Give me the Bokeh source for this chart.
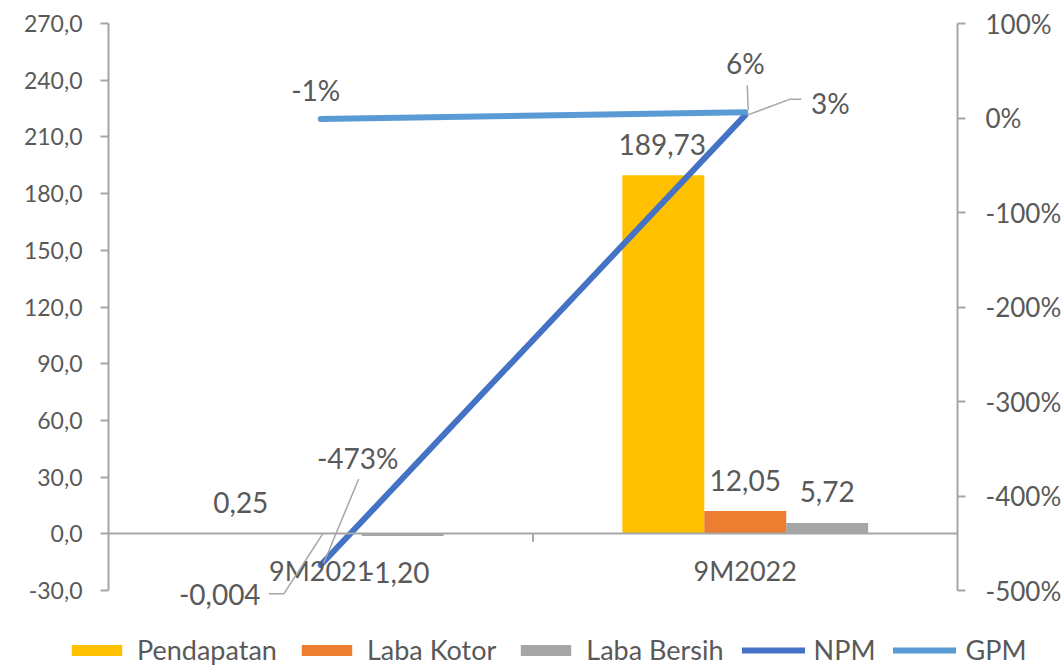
from bokeh.plotting import figure
from bokeh.models import (FactorRange, Range1d, LinearAxis, FixedTicker, Legend, LegendItem,
                          ColumnDataSource, LabelSet, Arrow)
from bokeh.transform import dodge
from bokeh.core.properties import value
from bokeh.embed import file_html
from bokeh.resources import INLINE

# ---------------- data ----------------
categories = ["9M2021", "9M2022"]
pendapatan = [0.25, 189.73]
laba_kotor = [-0.004, 12.05]
laba_bersih = [-1.20, 5.72]
npm = [-473, 3]
gpm = [-1, 6]

pendapatan_labels = ["0,25", "189,73"]
laba_kotor_labels = ["-0,004", "12,05"]
laba_bersih_labels = ["-1,20", "5,72"]
npm_labels = ["-473%", "3%"]
gpm_labels = ["-1%", "6%"]

left_ticks = [-30, 0, 30, 60, 90, 120, 150, 180, 210, 240, 270]
left_tick_labels = ["-30,0", "0,0", "30,0", "60,0", "90,0", "120,0", "150,0",
                    "180,0", "210,0", "240,0", "270,0"]
right_ticks = [-500, -400, -300, -200, -100, 0, 100]
right_tick_labels = ["-500%", "-400%", "-300%", "-200%", "-100%", "0%", "100%"]

series_names = ["Pendapatan", "Laba Kotor", "Laba Bersih", "NPM", "GPM"]

# ---------------- style ----------------
W, H = 1064, 626
LH = 40                 # legend strip height
BL, BR, BT, BB = 108, 106, 23, 16
AX_H = 567              # pixel height of the visible axis span
EXT = H - BT - BB - AX_H  # extra frame pixels below the axis minimum
FW = W - BL - BR
FONT = "Lato"
TXT = "#595959"
AXC = "#a6a6a6"
C_PEND, C_KOT, C_BER, C_NPM, C_GPM = "#FFC000", "#ED7D31", "#A5A5A5", "#4472C4", "#5B9BD5"
BW = 0.193
Y0, Y1 = -30, 270
P0, P1 = -500, 100
YPX = (Y1 - Y0) / AX_H
PPX = (P1 - P0) / AX_H

p = figure(width=W, height=H,
           x_range=FactorRange(factors=categories, range_padding=0),
           y_range=Range1d(Y0 - EXT * YPX, Y1),
           output_backend="svg", toolbar_location=None,
           min_border_left=BL, min_border_right=BR, min_border_top=BT, min_border_bottom=BB)
p.extra_y_ranges = {"pct": Range1d(P0 - EXT * PPX, P1)}
p.outline_line_color = None
p.xgrid.visible = False
p.ygrid.visible = False

# left axis
la = p.left[0]
la.ticker = FixedTicker(ticks=left_ticks)
la.bounds = (Y0, Y1)
la.major_label_overrides = {t: s for t, s in zip(left_ticks, left_tick_labels)}
la.minor_tick_line_color = None
la.major_tick_in = 0
la.major_tick_out = 8
la.major_tick_line_color = AXC
la.major_tick_line_width = 2
la.axis_line_color = AXC
la.axis_line_width = 2
la.major_label_text_font = FONT
la.major_label_text_font_size = "23px"
la.major_label_text_color = TXT
la.major_label_standoff = 18

# right axis
ra = LinearAxis(y_range_name="pct", ticker=FixedTicker(ticks=right_ticks), bounds=(P0, P1),
                major_label_overrides={t: s for t, s in zip(right_ticks, right_tick_labels)})
ra.minor_tick_line_color = None
ra.major_tick_in = 0
ra.major_tick_out = 8
ra.major_tick_line_color = AXC
ra.major_tick_line_width = 2
ra.axis_line_color = AXC
ra.axis_line_width = 2
ra.major_label_text_font = FONT
ra.major_label_text_font_size = "26px"
ra.major_label_text_color = TXT
ra.major_label_standoff = 20
p.add_layout(ra, "right")

# category axis at y = 0
xa = p.below[0]
xa.fixed_location = 0
xa.axis_line_color = AXC
xa.axis_line_width = 2
xa.major_tick_line_color = None
xa.major_label_text_font = FONT
xa.major_label_text_font_size = "27px"
xa.major_label_text_color = TXT
xa.major_label_standoff = 14

# boundary tick between categories
p.segment(x0=[1], y0=[0], x1=[1], y1=[-8 * YPX], line_color=AXC, line_width=2)

src = ColumnDataSource(dict(cat=categories, pend=pendapatan, kot=laba_kotor, ber=laba_bersih,
                            npm=npm, gpm=gpm))


def draw_series(fig):
    r1 = fig.vbar(x=dodge("cat", -BW, range=fig.x_range), top="pend", width=BW, source=src,
                  fill_color=C_PEND, line_color=None)
    r2 = fig.vbar(x=dodge("cat", 0, range=fig.x_range), top="kot", width=BW, source=src,
                  fill_color=C_KOT, line_color=None)
    r3 = fig.vbar(x=dodge("cat", BW, range=fig.x_range), top="ber", width=BW, source=src,
                  fill_color=C_BER, line_color=None)
    r4 = fig.line(x="cat", y="npm", source=src, y_range_name="pct", line_color=C_NPM,
                  line_width=6, line_cap="round")
    r5 = fig.line(x="cat", y="gpm", source=src, y_range_name="pct", line_color=C_GPM,
                  line_width=6, line_cap="round")
    return [r1, r2, r3, r4, r5]


draw_series(p)


def add_labels(dx, vals, texts, xo, yo, yname="default"):
    s = ColumnDataSource(dict(cat=categories, v=vals, t=texts, xo=xo, yo=yo))
    kw = {}
    if yname != "default":
        kw["y_range_name"] = yname
    ls = LabelSet(x=dodge("cat", dx, range=p.x_range), y="v", text="t", x_offset="xo", y_offset="yo",
                  source=s, text_align="center", text_baseline="middle",
                  text_font=value(FONT), text_font_size=value("28px"), text_color=TXT, **kw)
    p.add_layout(ls)


add_labels(-BW, pendapatan, pendapatan_labels, [2, -1], [31, 31])
add_labels(0, laba_kotor, laba_kotor_labels, [-101, 0], [-61, 31])
add_labels(BW, laba_bersih, laba_bersih_labels, [-6, 0], [-36, 31])
add_labels(0, npm, npm_labels, [37, 85], [107, 12], "pct")
add_labels(0, gpm, gpm_labels, [-5, 0], [29, 49], "pct")

# leader lines (pixel offsets from the data point)
px_x = 2.0 / FW


def leader(i, val, pts, yname="default"):
    px_y = YPX if yname == "default" else PPX
    cx = i + 0.5
    kw = {}
    if yname != "default":
        kw["y_range_name"] = yname
    for (ax, ay), (bx, by) in zip(pts[:-1], pts[1:]):
        p.add_layout(Arrow(end=None, x_start=cx + ax * px_x, y_start=val + ay * px_y,
                           x_end=cx + bx * px_x, y_end=val + by * px_y,
                           line_color=AXC, line_width=1.5, **kw))


leader(0, laba_kotor[0], [(2, 0), (-37, -60), (-52, -60)])
leader(0, npm[0], [(38, 86), (3, 2)], "pct")
leader(1, npm[1], [(2, 0), (45, 16), (56, 16)], "pct")
leader(1, gpm[1], [(2, 27), (3, 2)], "pct")

# ---------------- legend strip (same series, ranges chosen so nothing is in view) ----------------
q = figure(width=W, height=LH, x_range=FactorRange(factors=categories),
           y_range=Range1d(5000, 5001),
           x_axis_location=None, y_axis_location=None,
           output_backend="svg", toolbar_location=None,
           min_border_left=0, min_border_right=0, min_border_top=0, min_border_bottom=0)
q.extra_y_ranges = {"pct": Range1d(5000, 5001)}
q.grid.visible = False
q.outline_line_color = None
legend_renderers = draw_series(q)
legend = Legend(items=[LegendItem(label=n, renderers=[r], index=0) for n, r in
                       zip(series_names, legend_renderers)],
                orientation="horizontal", location=(65, 0),
                glyph_width=63, glyph_height=14, label_standoff=9, spacing=18,
                padding=0, margin=0, border_line_color=None, background_fill_alpha=0,
                label_text_font=FONT, label_text_font_size="27px", label_text_color=TXT)
q.add_layout(legend)

open("out.html", "w").write(file_html((p, q), INLINE))
